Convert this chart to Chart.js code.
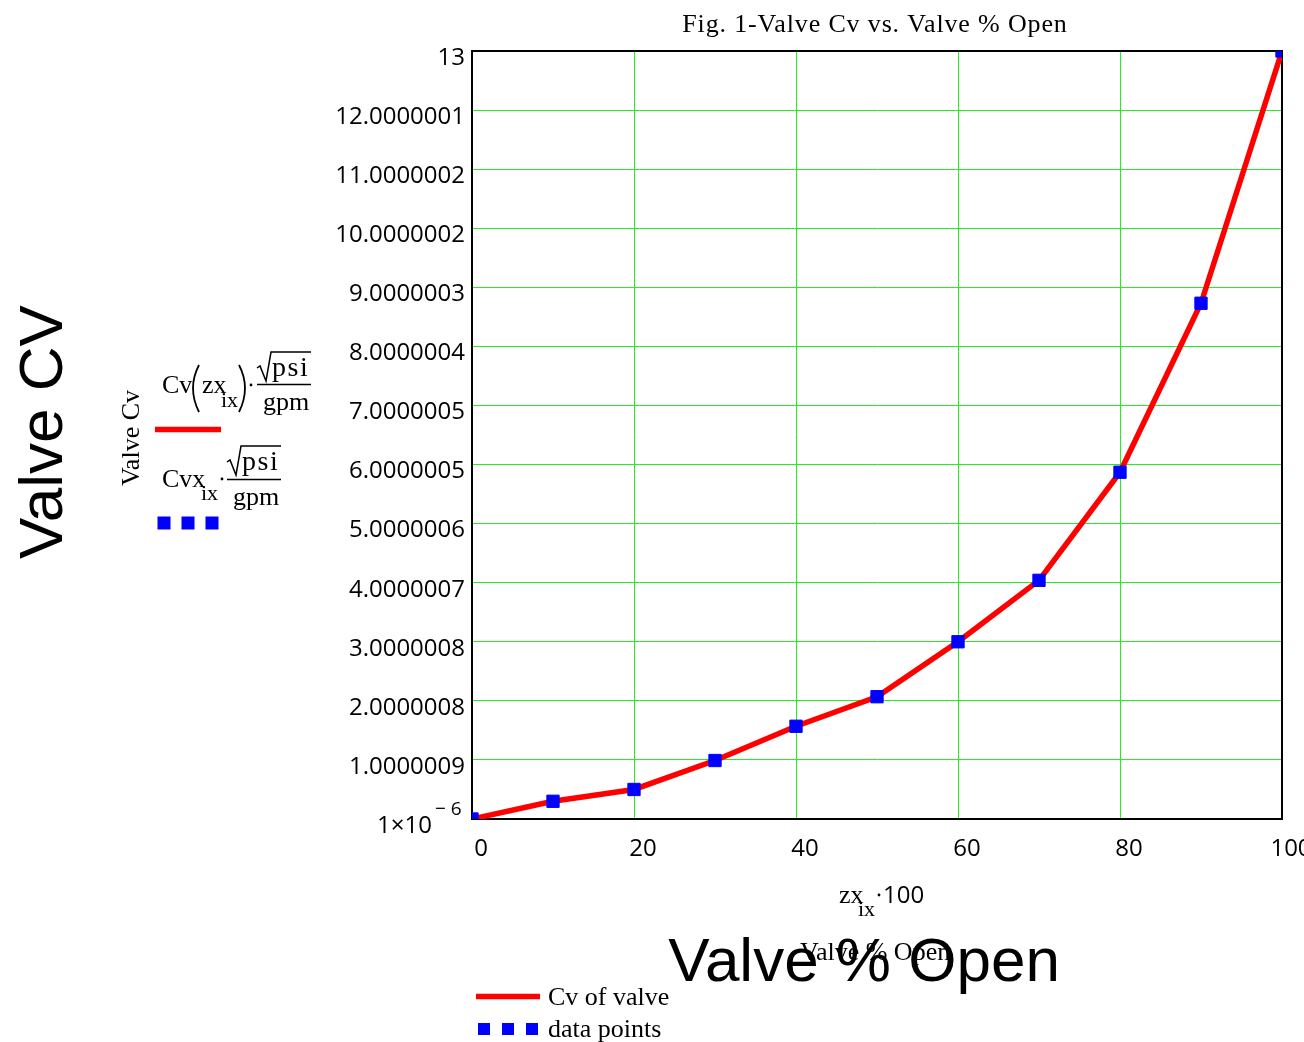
<!DOCTYPE html>
<html>
<head>
<meta charset="utf-8">
<title>Fig. 1-Valve Cv vs. Valve % Open</title>
<script src="https://cdn.jsdelivr.net/npm/chart.js@4.4.1/dist/chart.umd.min.js"></script>
<style>
  html, body { margin: 0; padding: 0; background: #ffffff; overflow: hidden; }
  #wrap { width: 1304px; height: 1042px; position: relative; }
</style>
</head>
<body>
<div id="wrap"><canvas id="cvChart" width="1304" height="1042"></canvas></div>
<script>
// Valve opening (%) and the valve Cv at each opening
const valveOpen = [0, 10, 20, 30, 40, 50, 60, 70, 80, 90, 100];
const cvValues  = [0.000001, 0.30, 0.50, 0.99, 1.57, 2.07, 3.00, 4.04, 5.87, 8.73, 13];

// Axis ticks
const xTickValues = [0, 20, 40, 60, 80, 100];
const yTickValues = [0.000001, 1.0000009, 2.0000008, 3.0000008, 4.0000007, 5.0000006,
                     6.0000005, 7.0000005, 8.0000004, 9.0000003, 10.0000002, 11.0000002,
                     12.0000001, 13];
const yTickLabels = [['1×10', '− 6'], '1.0000009', '2.0000008', '3.0000008', '4.0000007',
                     '5.0000006', '6.0000005', '7.0000005', '8.0000004', '9.0000003',
                     '10.0000002', '11.0000002', '12.0000001', '13'];

// Text
const chartTitle = 'Fig. 1-Valve Cv vs. Valve % Open';
const yAxisTitle = 'Valve CV';
const xAxisTitle = 'Valve % Open';
const yAxisNote = 'Valve Cv';
const seriesNames = ['Cv of valve', 'data points'];

const RED = '#ff0000';
const BLUE = '#0000ff';
const GRID = '#22ee22';
const SERIF = '"Liberation Serif", "Times New Roman", serif';
const SANS = '"Open Sans", "Noto Sans", sans-serif';
const ARIAL = '"Liberation Sans", Arial, sans-serif';

const points = valveOpen.map((x, i) => ({ x: x, y: cvValues[i] }));

function text(ctx, s, x, y, font, align, spacing) {
  ctx.font = font;
  ctx.textAlign = align || 'left';
  ctx.textBaseline = 'alphabetic';
  ctx.letterSpacing = spacing || '0px';
  ctx.fillText(s, x, y);
  ctx.letterSpacing = '0px';
}

function radical(ctx, x0, yTop, yBottom, xEnd) {
  ctx.beginPath();
  ctx.moveTo(x0, yBottom - 13);
  ctx.lineTo(x0 + 3, yBottom - 15);
  ctx.lineTo(x0 + 9, yBottom);
  ctx.lineTo(x0 + 14, yTop);
  ctx.lineTo(xEnd, yTop);
  ctx.stroke();
}

function hline(ctx, x1, x2, y, w, color) {
  ctx.beginPath();
  ctx.strokeStyle = color;
  ctx.lineWidth = w;
  ctx.moveTo(x1, y);
  ctx.lineTo(x2, y);
  ctx.stroke();
}

function squares(ctx, xs, y, size) {
  ctx.fillStyle = BLUE;
  xs.forEach(x => ctx.fillRect(x - size / 2, y - size / 2, size, size));
}

function dot(ctx, x, y) {
  ctx.beginPath();
  ctx.arc(x, y, 1.4, 0, Math.PI * 2);
  ctx.fill();
}

// Plot frame on the top and right sides, drawn below the data
const framePlugin = {
  id: 'frame',
  beforeDatasetsDraw(chart) {
    const { ctx, chartArea: a } = chart;
    ctx.save();
    ctx.strokeStyle = '#000';
    ctx.lineWidth = 2;
    ctx.beginPath();
    ctx.moveTo(a.left, a.top);
    ctx.lineTo(a.right, a.top);
    ctx.lineTo(a.right, a.bottom);
    ctx.stroke();
    ctx.restore();
  }
};

// Titles, worksheet-style labels and legends
const labelsPlugin = {
  id: 'worksheetLabels',
  afterDraw(chart) {
    const ctx = chart.ctx;
    const yScale = chart.scales.y;
    ctx.save();
    ctx.fillStyle = '#000';
    ctx.strokeStyle = '#000';

    // title
    text(ctx, chartTitle, 875, 32, '26px ' + SERIF, 'center', '0.85px');

    // lowest y tick label with its exponent
    const low = yTickLabels[0];
    const yLow = yScale.getPixelForValue(yTickValues[0]);
    text(ctx, low[0], 432, yLow + 14, '24px ' + SANS, 'right');
    text(ctx, low[1], 435, yLow - 4, '19px ' + SANS, 'left');

    // large axis titles
    ctx.save();
    ctx.translate(62, 432);
    ctx.rotate(-Math.PI / 2);
    text(ctx, yAxisTitle, 0, 0, '62px ' + ARIAL, 'center');
    ctx.restore();
    text(ctx, xAxisTitle, 864, 981, '62px ' + ARIAL, 'center');

    // small rotated y note
    ctx.save();
    ctx.translate(139, 438);
    ctx.rotate(-Math.PI / 2);
    text(ctx, yAxisNote, 0, 0, '26px ' + SERIF, 'center');
    ctx.restore();

    // x-axis expression and note
    text(ctx, 'zx', 839, 903, '26px ' + SERIF);
    text(ctx, 'ix', 858, 916, '22px ' + SERIF);
    dot(ctx, 879, 895);
    text(ctx, '100', 883, 903, '24px ' + SANS);
    text(ctx, xAxisTitle, 800, 960, '26px ' + SERIF);

    // left legend, first trace: Cv(zx_ix)·sqrt(psi)/gpm
    text(ctx, 'Cv', 162, 393, '26px ' + SERIF);
    ctx.lineWidth = 1.8;
    ctx.beginPath();
    ctx.moveTo(199, 365); ctx.quadraticCurveTo(187, 388, 199, 412);
    ctx.moveTo(239, 365); ctx.quadraticCurveTo(251, 388, 239, 412);
    ctx.stroke();
    text(ctx, 'zx', 202, 393, '26px ' + SERIF);
    text(ctx, 'ix', 221, 407, '22px ' + SERIF);
    dot(ctx, 251, 385);
    ctx.lineWidth = 1.5;
    radical(ctx, 257, 352, 381, 311);
    text(ctx, 'psi', 272, 376, '28px ' + SERIF, 'left', '1.5px');
    hline(ctx, 257, 311, 384.5, 1.6, '#000');
    text(ctx, 'gpm', 263, 410, '26px ' + SERIF);
    hline(ctx, 155, 221, 429.5, 5.5, RED);

    // left legend, second trace: Cvx_ix·sqrt(psi)/gpm
    ctx.strokeStyle = '#000';
    ctx.fillStyle = '#000';
    text(ctx, 'Cvx', 162, 487, '26px ' + SERIF);
    text(ctx, 'ix', 201, 500, '22px ' + SERIF);
    dot(ctx, 222, 479);
    ctx.lineWidth = 1.5;
    radical(ctx, 227, 446, 475, 281);
    text(ctx, 'psi', 242, 470, '28px ' + SERIF, 'left', '1.5px');
    hline(ctx, 227, 281, 479.5, 1.6, '#000');
    text(ctx, 'gpm', 233, 505, '26px ' + SERIF);
    squares(ctx, [164, 188, 212], 523, 13);

    // bottom legend
    hline(ctx, 476, 540, 996.5, 5.5, RED);
    ctx.fillStyle = '#000';
    text(ctx, seriesNames[0], 548, 1005, '26px ' + SERIF);
    squares(ctx, [484, 508, 532], 1029, 12);
    ctx.fillStyle = '#000';
    text(ctx, seriesNames[1], 548, 1037, '26px ' + SERIF);

    ctx.restore();
  }
};

new Chart(document.getElementById('cvChart'), {
  type: 'line',
  data: {
    datasets: [
      {
        label: seriesNames[0],
        data: points,
        borderColor: RED,
        backgroundColor: RED,
        borderWidth: 5.5,
        pointRadius: 0,
        tension: 0,
        clip: 0,
        order: 2
      },
      {
        label: seriesNames[1],
        data: points,
        showLine: false,
        pointStyle: 'rect',
        pointRadius: 8.7,
        pointBackgroundColor: BLUE,
        pointBorderColor: BLUE,
        pointBorderWidth: 1,
        clip: 0,
        order: 1
      }
    ]
  },
  options: {
    responsive: false,
    devicePixelRatio: 1,
    animation: false,
    events: [],
    layout: { padding: { top: 51, right: 22, bottom: 49, left: 0 } },
    plugins: {
      legend: { display: false },
      tooltip: { enabled: false },
      title: { display: false }
    },
    scales: {
      x: {
        type: 'linear',
        min: 0,
        max: 100,
        afterBuildTicks: s => { s.ticks = xTickValues.map(v => ({ value: v })); },
        afterFit: s => { s.height = 174; s.paddingLeft = 0; s.paddingRight = 0; },
        grid: { color: GRID, lineWidth: 1, drawTicks: false },
        border: { color: '#000', width: 2 },
        ticks: {
          color: '#000',
          font: { family: SANS, size: 24 },
          padding: 16,
          labelOffset: 9,
          maxRotation: 0,
          autoSkip: false,
          callback: v => String(v)
        }
      },
      y: {
        type: 'linear',
        min: yTickValues[0],
        max: yTickValues[yTickValues.length - 1],
        afterBuildTicks: s => { s.ticks = yTickValues.map(v => ({ value: v })); },
        afterFit: s => { s.width = 472; },
        grid: { color: GRID, lineWidth: 1, drawTicks: false },
        border: { color: '#000', width: 2 },
        ticks: {
          color: '#000',
          font: { family: SANS, size: 24 },
          padding: 7,
          labelOffset: 7,
          autoSkip: false,
          callback: (v, i) => (typeof yTickLabels[i] === 'string' ? yTickLabels[i] : '')
        }
      }
    }
  },
  plugins: [framePlugin, labelsPlugin]
});
</script>
</body>
</html>
